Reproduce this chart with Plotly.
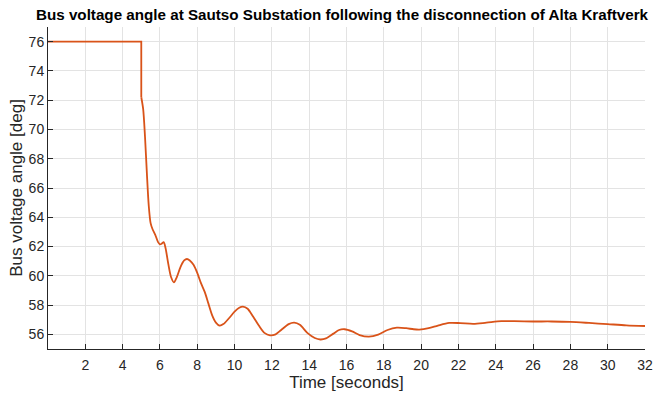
import plotly.graph_objects as go

time_s = [0, 5.0, 5.0, 5.1, 5.2, 5.3, 5.4, 5.5, 5.6, 5.75, 5.9, 6.0, 6.1, 6.2, 6.3, 6.45, 6.6, 6.75,
          6.9, 7.1, 7.3, 7.45, 7.6, 7.8, 8.0, 8.2, 8.4, 8.6, 8.8, 9.0, 9.2, 9.4, 9.7, 10.0, 10.25,
          10.45, 10.7, 11.0, 11.3, 11.6, 11.9, 12.2, 12.5, 12.9, 13.2, 13.5, 13.9, 14.3, 14.6, 14.9,
          15.3, 15.6, 15.9, 16.3, 16.7, 17.2, 17.7, 18.2, 18.7, 19.2, 19.6, 19.9, 20.4, 20.9, 21.5,
          22.1, 22.8, 23.5, 24.3, 25.0, 26.0, 27.0, 28.0, 29.0, 30.0, 31.0, 32.0]
angle_deg = [76, 76, 72.2, 71.4, 69.5, 67.0, 64.8, 63.6, 63.2, 62.8, 62.3, 62.15, 62.2, 62.3, 61.9,
             60.8, 59.9, 59.55, 59.9, 60.6, 61.05, 61.15, 61.05, 60.75, 60.2, 59.5, 58.9, 58.1, 57.3,
             56.8, 56.6, 56.7, 57.1, 57.55, 57.82, 57.9, 57.75, 57.2, 56.6, 56.1, 55.93, 56.0, 56.3,
             56.7, 56.8, 56.65, 56.1, 55.75, 55.65, 55.72, 56.05, 56.3, 56.35, 56.2, 55.95, 55.84,
             55.98, 56.3, 56.46, 56.42, 56.35, 56.33, 56.42, 56.6, 56.78, 56.77, 56.72, 56.8, 56.9,
             56.9, 56.88, 56.88, 56.85, 56.78, 56.7, 56.62, 56.57]

x_ticks = list(range(2, 33, 2))
y_ticks = list(range(56, 77, 2))

line_style = dict(color="#D95319", width=1.8)
fig = go.Figure()
# pre-fault flat part and instantaneous step (straight segments)
fig.add_trace(go.Scatter(x=time_s[:3], y=angle_deg[:3], mode="lines",
                         line=line_style, showlegend=False, cliponaxis=False))
# post-fault dynamic response (smoothed)
fig.add_trace(go.Scatter(x=time_s[2:], y=angle_deg[2:], mode="lines",
                         line=dict(line_style, shape="spline", smoothing=0.8), showlegend=False))

font_family = "Liberation Sans"
fig.update_layout(
    width=654, height=394,
    margin=dict(l=48, r=9, t=27, b=45, autoexpand=False),
    paper_bgcolor="white", plot_bgcolor="white",
    font=dict(family=font_family, color="#262626", size=14),
    title=dict(text="<b>Bus voltage angle at Sautso Substation following the disconnection of Alta Kraftverk</b>",
               x=0.523, xanchor="center", y=0.962, yanchor="middle",
               font=dict(size=15.2, color="black", family=font_family)),
)
fig.update_xaxes(range=[0, 32], tickvals=x_ticks, ticks="inside", ticklen=5, tickcolor="#262626",
                 showline=True, linecolor="#262626", linewidth=1, automargin=False,
                 showgrid=True, gridcolor="#e3e3e3", gridwidth=1, zeroline=False,
                 tickfont=dict(size=14), ticklabelstandoff=3,
                 title=dict(text="Time [seconds]", font=dict(size=17), standoff=4))
fig.update_yaxes(range=[55, 77], tickvals=y_ticks, ticks="inside", ticklen=5, tickcolor="#262626",
                 showline=True, linecolor="#262626", linewidth=1, automargin=False,
                 showgrid=True, gridcolor="#e3e3e3", gridwidth=1, zeroline=False,
                 tickfont=dict(size=14),
                 title=dict(text="Bus voltage angle [deg]", font=dict(size=17), standoff=1))

fig.write_html("out.html")
